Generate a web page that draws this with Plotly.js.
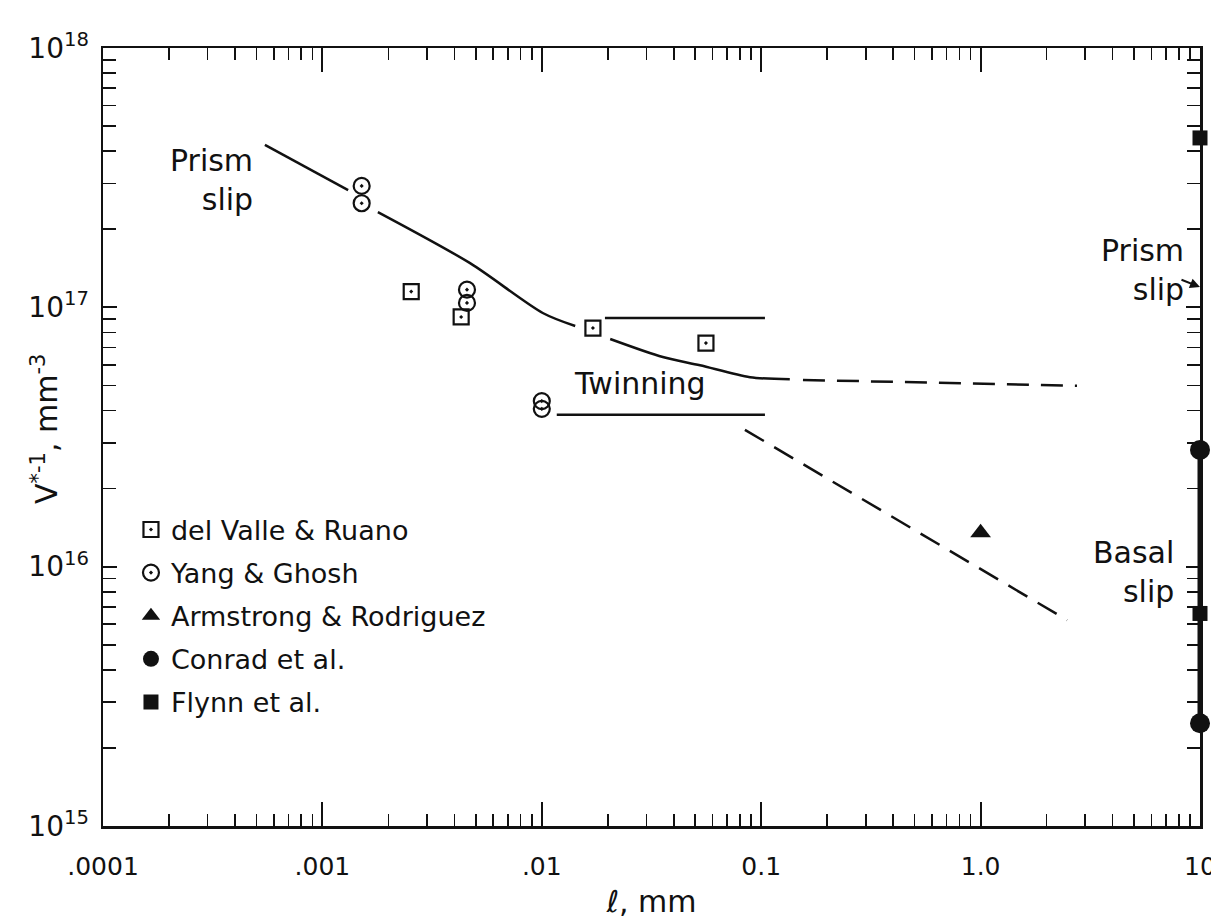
<!DOCTYPE html>
<html>
<head>
<meta charset="utf-8">
<script src="https://cdn.plot.ly/plotly-3.0.1.min.js"></script>
<style>html,body{margin:0;padding:0;background:#fff;}#chart{width:1211px;height:924px;}</style>
</head>
<body>
<div id="chart"></div>
<script>
// ---------------- DATA ----------------
// del Valle & Ruano (open square with dot)
const valleX = [0.00254, 0.00429, 0.0171, 0.0560];
const valleY = [1.15e17, 9.18e16, 8.32e16, 7.28e16];
// Yang & Ghosh (open circle with dot)
const yangX = [0.00151, 0.00151, 0.00456, 0.00456, 0.0100, 0.0100];
const yangY = [2.94e17, 2.52e17, 1.17e17, 1.04e17, 4.35e16, 4.06e16];
// Armstrong & Rodriguez (filled triangle)
const armX = [1.0];
const armY = [1.35e16];
// Conrad et al. (filled circle) – basal slip range at l = 10 mm
const conradX = [10, 10];
const conradY = [2.82e16, 2.49e15];
// Flynn et al. (filled square)
const flynnX = [10, 10];
const flynnY = [4.5e17, 6.6e15];

// Prism slip curve (solid) – null = gap around symbols
const prismX = [5.47e-4, 1.31e-3, null, 1.79e-3, 4.71e-3, 1.01e-2, 1.42e-2, null, 2.05e-2, 3.56e-2, 5.26e-2, 8.89e-2, 0.135];
const prismY = [4.23e17, 2.83e17, null, 2.33e17, 1.48e17, 9.51e16, 8.47e16, null, 7.55e16, 6.43e16, 5.98e16, 5.38e16, 5.28e16];
// Prism slip extrapolation (dashed)
const prismDashX = [0.155, 2.75];
const prismDashY = [5.25e16, 4.98e16];
// Twinning band limits
const twinUpX = [0.0194, 0.104];
const twinUpY = [9.1e16, 9.1e16];
const twinLoX = [0.0117, 0.104];
const twinLoY = [3.85e16, 3.85e16];
// Basal / twinning extrapolation (dashed)
const basalDashX = [0.0843, 2.48];
const basalDashY = [3.37e16, 6.22e15];

// Tick labels
const xTickVals = [1e-4, 1e-3, 1e-2, 1e-1, 1, 10];
const xTickText = ['.0001', '.001', '.01', '0.1', '1.0', '10'];
const yTickVals = [1e15, 1e16, 1e17, 1e18];
const yTickText = ['10<sup>15</sup>', '10<sup>16</sup>', '10<sup>17</sup>', '10<sup>18</sup>'];

// ---------------- BUILD ----------------
function minorVals(lo, hi) {
  const v = [];
  for (let e = lo; e < hi; e++) for (let m = 2; m <= 9; m++) v.push(m * Math.pow(10, e));
  return v;
}

const FONT = 'DejaVu Sans, Liberation Sans, sans-serif';
const INK = '#111';

const lineStyle = {color: INK, width: 2.5};
const traces = [
  {x: prismX, y: prismY, mode: 'lines', line: Object.assign({shape: 'spline', smoothing: 0.8}, lineStyle), showlegend: false, connectgaps: false},
  {x: prismDashX, y: prismDashY, mode: 'lines', line: {color: INK, width: 2.5, dash: '22px,12px'}, showlegend: false},
  {x: twinUpX, y: twinUpY, mode: 'lines', line: lineStyle, showlegend: false},
  {x: twinLoX, y: twinLoY, mode: 'lines', line: lineStyle, showlegend: false},
  {x: basalDashX, y: basalDashY, mode: 'lines', line: {color: INK, width: 2.5, dash: '22px,12px'}, showlegend: false},
  {x: conradX, y: conradY, mode: 'lines', line: {color: INK, width: 5}, showlegend: false, cliponaxis: false},
  {x: valleX, y: valleY, mode: 'markers', name: 'del Valle & Ruano', legendgroup: 'a',
   marker: {symbol: 'square-open-dot', size: 15, color: INK, line: {width: 2.2, color: INK}}},
  {x: yangX, y: yangY, mode: 'markers', name: 'Yang & Ghosh', legendgroup: 'b',
   marker: {symbol: 'circle-open-dot', size: 16, color: INK, line: {width: 2.2, color: INK}}},
  {x: armX, y: armY, mode: 'markers', name: 'Armstrong & Rodriguez', legendgroup: 'c',
   marker: {symbol: 'triangle-up', size: 18, color: INK}},
  {x: conradX, y: conradY, mode: 'markers', name: 'Conrad et al.', legendgroup: 'd', cliponaxis: false,
   marker: {symbol: 'circle', size: 20, color: INK}},
  {x: flynnX, y: flynnY, mode: 'markers', name: 'Flynn et al.', legendgroup: 'e', cliponaxis: false,
   marker: {symbol: 'square', size: 15, color: INK}}
];

const annFont = {family: FONT, size: 30, color: INK};
const layout = {
  width: 1211, height: 924,
  margin: {l: 103, r: 11, t: 48, b: 98},
  paper_bgcolor: '#fff', plot_bgcolor: '#fff',
  font: {family: FONT, color: INK},
  showlegend: true,
  legend: {x: 0.0255, y: 0.412, xanchor: 'left', yanchor: 'top', bgcolor: 'rgba(0,0,0,0)',
           font: {family: FONT, size: 27, color: INK}, traceorder: 'grouped', tracegroupgap: 5,
           itemsizing: 'trace'},
  xaxis: {
    type: 'log', range: [-4, 1], showgrid: false, zeroline: false,
    showline: true, linecolor: INK, linewidth: 2.5, mirror: 'ticks',
    ticks: 'inside', ticklen: 24, tickwidth: 2, tickcolor: INK,
    tickmode: 'array', tickvals: xTickVals, ticktext: xTickText,
    tickfont: {family: FONT, size: 25, color: INK}, ticklabelstandoff: 16, ticklabeloverflow: 'allow',
    minor: {tickmode: 'array', tickvals: minorVals(-4, 1), ticks: 'inside', ticklen: 12, tickwidth: 1.6, tickcolor: INK, showgrid: false},
    title: {text: 'ℓ, mm', font: {family: FONT, size: 30, color: INK}, standoff: 12}
  },
  yaxis: {
    type: 'log', range: [15, 18], showgrid: false, zeroline: false,
    showline: true, linecolor: INK, linewidth: 2.5, mirror: 'ticks',
    ticks: 'inside', ticklen: 14, tickwidth: 2, tickcolor: INK,
    tickmode: 'array', tickvals: yTickVals, ticktext: yTickText,
    tickfont: {family: FONT, size: 28, color: INK}, ticklabelstandoff: 6, ticklabeloverflow: 'allow',
    minor: {tickmode: 'array', tickvals: minorVals(15, 18), ticks: 'inside', ticklen: 13, tickwidth: 1.6, tickcolor: INK, showgrid: false}
  },
  annotations: [
    {x: -0.053, y: 0.51, xref: 'paper', yref: 'paper', xanchor: 'center', yanchor: 'middle',
     text: 'V<sup>*-1</sup>, mm<sup>-3</sup>', textangle: -90, showarrow: false,
     font: {family: FONT, size: 30, color: INK}},
    {x: -3.307, y: 17.491, xref: 'x', yref: 'y', text: 'Prism<br>slip', showarrow: false, xanchor: 'right', align: 'right', font: annFont},
    {x: -1.552, y: 16.708, xref: 'x', yref: 'y', text: 'Twinning', showarrow: false, font: annFont},
    {x: 0.736, y: 17.144, xref: 'x', yref: 'y', text: 'Prism<br>slip', showarrow: false, align: 'right', font: annFont},
    {x: 0.695, y: 15.979, xref: 'x', yref: 'y', text: 'Basal<br>slip', showarrow: false, align: 'right', font: annFont},
    {x: 1, y: 17.078, xref: 'x', yref: 'y', text: '', showarrow: true, arrowhead: 2, arrowsize: 1, arrowwidth: 2, arrowcolor: INK, ax: -20, ay: -8}
  ]
};

Plotly.newPlot('chart', traces, layout, {displayModeBar: false, staticPlot: true});
</script>
</body>
</html>
